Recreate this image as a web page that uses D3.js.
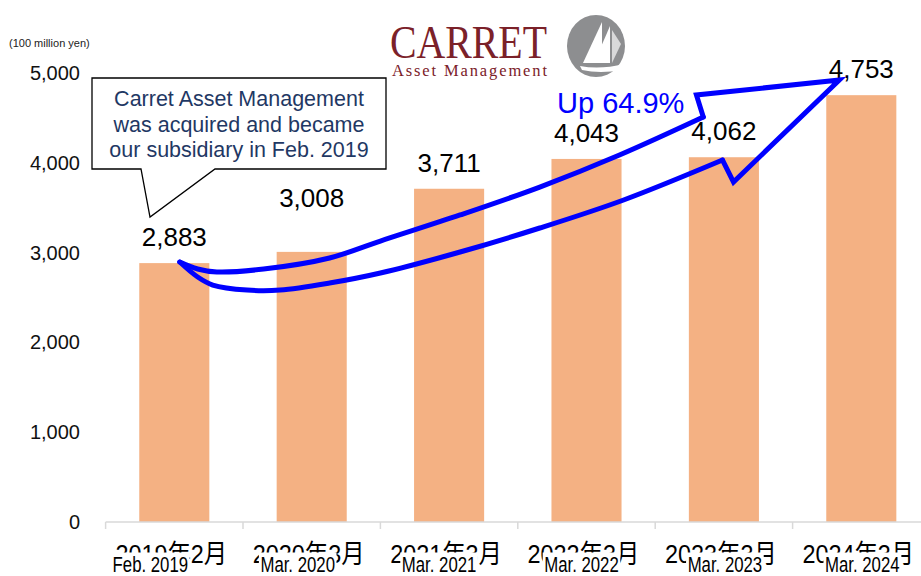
<!DOCTYPE html>
<html>
<head>
<meta charset="utf-8">
<script src="https://cdn.jsdelivr.net/npm/d3@7"></script>
<style>
  body { margin: 0; background: #fff; }
  text { font-family: "Liberation Sans", Arial, sans-serif; }
</style>
</head>
<body>
<svg width="921" height="576"></svg>
<script>
// data (100 million yen)
var periodsJa = ["2019年2月", "2020年3月", "2021年3月", "2022年3月", "2023年3月", "2024年3月"];
var periodsEn = ["Feb. 2019", "Mar. 2020", "Mar. 2021", "Mar. 2022", "Mar. 2023", "Mar. 2024"];
var aum = [2883, 3008, 3711, 4043, 4062, 4753];
var yTicks = [0, 1000, 2000, 3000, 4000, 5000];
var calloutLines = ["Carret Asset Management", "was acquired and became", "our subsidiary in Feb. 2019"];
var growthLabel = "Up 64.9%";

// arrow outline in chart units: [bars from first bar centre, value]
var arrowUpper = [[0.04, 2895], [0.17, 2817], [0.31, 2784], [0.65, 2817], [1.13, 2940], [1.50, 3129],
                  [2.08, 3419], [2.66, 3730], [3.24, 4087], [3.85, 4510]];
var arrowHead = [[3.85, 4510], [3.80, 4755], [4.84, 4922], [4.07, 3786], [3.99, 4031]];
var arrowLower = [[3.99, 4031], [3.27, 3586], [2.66, 3274], [2.08, 3007], [1.50, 2773], [1.13, 2661],
                  [0.77, 2583], [0.53, 2583], [0.28, 2639], [0.17, 2728], [0.04, 2895]];

// little nudges of the english labels, copied from the slide
var enShift = [-24, -14, -10, -5, 1, 1];

var svg = d3.select("svg");

var x = d3.scaleBand().domain(d3.range(aum.length))
  .range([105.6, 930]).paddingInner(0.49).paddingOuter(0.245);
var y = d3.scaleLinear().domain([0, 5000]).range([522, 73]);
var cx = function(i) { return x(i) + x.bandwidth() / 2; };

// unit label
svg.append("text").attr("x", 9).attr("y", 47)
  .style("font-size", "11px").attr("fill", "#222").text("(100 million yen)");

// y axis, labels only
var yAxis = svg.append("g").attr("transform", "translate(80,0)")
  .call(d3.axisLeft(y).tickValues(yTicks).tickFormat(d3.format(",")).tickSize(0).tickPadding(0));
yAxis.select(".domain").remove();
yAxis.selectAll("text").style("font-size", "20px").attr("fill", "#111")
  .style("font-family", "Liberation Sans, Arial, sans-serif");

// bars
svg.append("g").selectAll("rect").data(aum).enter().append("rect")
  .attr("x", function(d, i) { return x(i); })
  .attr("y", function(d) { return y(d); })
  .attr("width", x.bandwidth())
  .attr("height", function(d) { return y(0) - y(d); })
  .attr("fill", "#f4b183");

// x axis line + boundary ticks
svg.append("line").attr("x1", 105.6).attr("x2", 921).attr("y1", y(0)).attr("y2", y(0))
  .attr("stroke", "#d9d9d9").attr("stroke-width", 1.5);
svg.append("g").selectAll("line").data(d3.range(aum.length + 1)).enter().append("line")
  .attr("x1", function(i) { return 105.6 + i * x.step(); })
  .attr("x2", function(i) { return 105.6 + i * x.step(); })
  .attr("y1", y(0)).attr("y2", y(0) + 7)
  .attr("stroke", "#d9d9d9").attr("stroke-width", 1.5);

// value labels (2nd one sits higher on the slide to clear the arrow)
svg.append("g").selectAll("text").data(aum).enter().append("text")
  .attr("x", function(d, i) { return cx(i); })
  .attr("y", function(d, i) { return y(d) - 17 - (i == 1 ? 28 : 0); })
  .attr("text-anchor", "middle").style("font-size", "26px").attr("fill", "#000")
  .text(d3.format(","));

// category labels: japanese underneath, english on a white patch over it
var cat = svg.append("g").selectAll("g").data(aum).enter().append("g");
cat.append("text")
  .attr("transform", function(d, i) { return "translate(" + (cx(i) - 3) + ",563) scale(0.9,1)"; })
  .attr("text-anchor", "middle")
  .style("font-family", "Liberation Sans, Noto Sans CJK JP, sans-serif")
  .style("font-size", "26px").attr("fill", "#000")
  .text(function(d, i) { return periodsJa[i]; });
cat.each(function(d, i) {
  var g = d3.select(this).append("g")
    .attr("transform", "translate(" + (cx(i) + enShift[i]) + ",571.5) scale(0.78,1)");
  var t = g.append("text").attr("text-anchor", "middle")
    .style("font-size", "21.5px").attr("fill", "#000").text(periodsEn[i]);
  var bb = t.node().getBBox();
  g.insert("rect", "text").attr("x", bb.x - 2).attr("y", -19)
    .attr("width", bb.width + 4).attr("height", 26).attr("fill", "#fff");
});

// growth arrow
var ap = function(p) { return [cx(0) + p[0] * x.step(), y(p[1])]; };
var curve = d3.line().curve(d3.curveCatmullRom.alpha(0.5));
var straight = d3.line();
var arrow = svg.append("g").attr("fill", "none").attr("stroke", "#0000ff")
  .attr("stroke-width", 5).attr("stroke-linejoin", "round").attr("stroke-linecap", "round");
arrow.append("path").attr("d", curve(arrowUpper.map(ap)));
arrow.append("path").attr("d", straight(arrowHead.map(ap))).attr("stroke-linejoin", "miter");
arrow.append("path").attr("d", curve(arrowLower.map(ap)));

svg.append("text").attr("x", 557).attr("y", 113)
  .style("font-size", "29px").attr("fill", "#0000ff").text(growthLabel);

// callout
svg.append("path")
  .attr("d", "M92,78 H386 V169 H215 L150,217 L141,169 H92 Z")
  .attr("fill", "#fff").attr("stroke", "#000").attr("stroke-width", 1.3);
svg.append("g").selectAll("text").data(calloutLines).enter().append("text")
  .attr("x", 239).attr("y", function(d, i) { return 106 + i * 25.7; })
  .attr("text-anchor", "middle").style("font-size", "21.5px").attr("fill", "#1f3864")
  .text(function(d) { return d; });

// logo
var logo = svg.append("g");
logo.append("text").attr("x", 390).attr("y", 58)
  .style("font-family", "Liberation Serif, Times New Roman, serif").style("font-size", "47px")
  .attr("textLength", 157).attr("lengthAdjust", "spacingAndGlyphs")
  .attr("fill", "#7b2129").text("CARRET");
logo.append("text").attr("x", 392).attr("y", 76)
  .style("font-family", "Liberation Serif, Times New Roman, serif").style("font-size", "16.5px")
  .attr("textLength", 155).attr("lengthAdjust", "spacing")
  .attr("fill", "#7b2129").text("Asset Management");
logo.append("ellipse").attr("cx", 596).attr("cy", 46).attr("rx", 29).attr("ry", 31).attr("fill", "#8d8e90");
logo.append("path").attr("d", "M602,22 L583,63 L602,63 Z").attr("fill", "#fff");
logo.append("path").attr("d", "M610,26 L594,63 L610,63 Z").attr("fill", "#fff");
logo.append("path").attr("d", "M612,30 L621,44 L612,63 Z").attr("fill", "#d9d9da");
logo.append("path").attr("d", "M580,66 Q600,70 624,64 L622,70 Q600,74 582,70 Z").attr("fill", "#fff");
</script>
</body>
</html>
